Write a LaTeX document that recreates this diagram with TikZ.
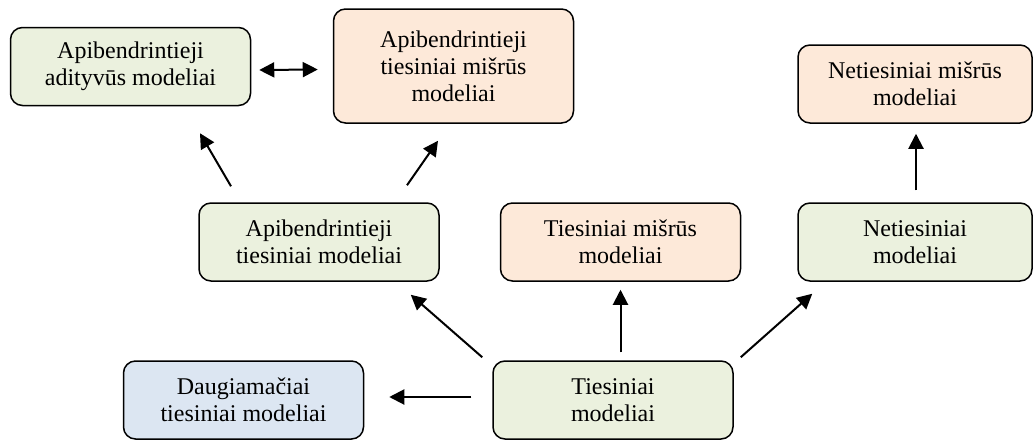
\documentclass[tikz,border=0pt]{standalone}
\usepackage{fontspec}
\setmainfont{Liberation Serif}
\usetikzlibrary{arrows.meta}
\definecolor{grn}{HTML}{EBF1DE}
\definecolor{org}{HTML}{FDE9D9}
\definecolor{blu}{HTML}{DCE6F2}
\begin{document}
\begin{tikzpicture}[x=1pt, y=-1pt, line width=2pt, >={Triangle[length=15pt, width=15pt]},
    main/.style = {draw, line width=1.5pt, rounded corners=12pt, align=center, inner sep=0pt,
      minimum width=240pt, minimum height=78pt, font=\fontsize{24}{27}\selectfont},
    lin/.style = {main, fill=grn}, mix/.style = {main, fill=org}, multi/.style = {main, fill=blu}]
    \useasboundingbox (0,0) rectangle (1033,439);
    \node[lin] (1) at (130.5,66.5) {Apibendrintieji\\adityvūs modeliai};
    \node[mix, minimum height=114pt] (2) at (453.5,66) {Apibendrintieji\\tiesiniai mišrūs\\modeliai};
    \node[mix, minimum width=234pt] (3) at (915,84) {Netiesiniai mišrūs\\modeliai};
    \node[lin] (4) at (319,242) {Apibendrintieji\\tiesiniai modeliai};
    \node[mix] (5) at (620.5,242) {Tiesiniai mišrūs\\modeliai};
    \node[lin, minimum width=234pt] (6) at (915,242) {Netiesiniai\\modeliai};
    \node[multi] (7) at (243.5,400) {Daugiamačiai\\tiesiniai modeliai};
    \node[lin] (8) at (613,400) {Tiesiniai\\modeliai};
    \draw[<->] ([shift={(8,3.5)}]1.east) -- ([shift={(-15,3.5)}]2.west);
    \draw[->] ([shift={(-88,-16)}]4.north) -- ([shift={(69.5,27)}]1.south);
    \draw[->] ([shift={(88,-17)}]4.north) -- ([shift={(-15.5,17)}]2.south);
    \draw[->] ([shift={(1,-12)}]6.north) -- ([shift={(1,10)}]3.south);
    \draw[->] ([shift={(-10,-3)}]8.north west) -- ([shift={(-29,13)}]4.south east);
    \draw[->] ([shift={(7.5,-8)}]8.north) -- ([shift={(0,8)}]5.south);
    \draw[->] ([shift={(7,-3)}]8.north east) -- ([shift={(15,12)}]6.south west);
    \draw[->] ([shift={(-21,-3)}]8.west) -- ([shift={(25,-3)}]7.east);
  \end{tikzpicture}
\end{document}
